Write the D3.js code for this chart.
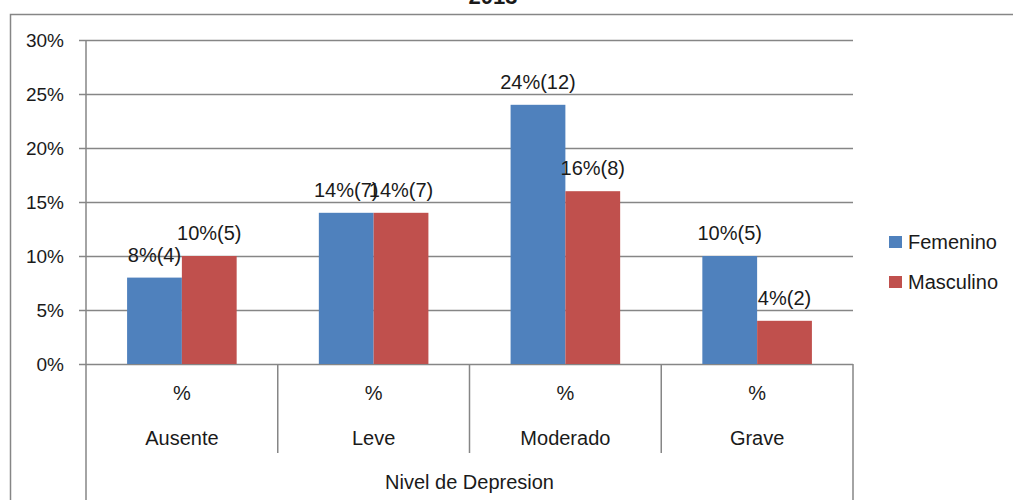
<!DOCTYPE html>
<html>
<head>
<meta charset="utf-8">
<script src="https://cdn.jsdelivr.net/npm/d3@7"></script>
<style>
  html, body { margin: 0; padding: 0; background: #fff; }
  svg { display: block; }
  text { font-family: "Liberation Sans", Arial, sans-serif; fill: #1a1a1a; }
</style>
</head>
<body>
<svg id="chart" width="1013" height="500"></svg>
<script>
// Depression level by sex (percent of sample, with counts)
const categories = ["Ausente", "Leve", "Moderado", "Grave"];
const seriesNames = ["Femenino", "Masculino"];
const femenino = [8, 14, 24, 10];
const masculino = [10, 14, 16, 4];
const femeninoCounts = [4, 7, 12, 5];
const masculinoCounts = [5, 7, 8, 2];
const yTicks = [0, 5, 10, 15, 20, 25, 30];
const subLabel = "%";
const axisTitle = "Nivel de Depresion";
const chartTitle = "2013";
const colors = ["#4F81BD", "#C0504D"];

const svg = d3.select("#chart");
const grid = "#868686";
const fs = "20px";

// Outer chart frame (cropped at right and bottom)
svg.append("path")
  .attr("d", "M10.5,500 V14.5 H1013")
  .attr("fill", "none").attr("stroke", grid).attr("stroke-width", 1.5);

// Title, mostly clipped above the frame
svg.append("text")
  .attr("x", 493).attr("y", 4)
  .attr("text-anchor", "middle")
  .style("font-size", "22px").style("font-weight", "bold")
  .text(chartTitle);

const plotLeft = 86, plotRight = 853, plotTop = 40, plotBottom = 364;

const y = d3.scaleLinear().domain([0, 30]).range([plotBottom, plotTop]);
const x0 = d3.scaleBand().domain(categories).range([plotLeft, plotRight]);
// Two bars per group with a gap of 1.5 bar widths
const barW = x0.bandwidth() / 3.5;
const x1 = d3.scaleBand().domain(seriesNames)
  .range([0.75 * barW, 2.75 * barW]).padding(0);

// Horizontal gridlines with small tick marks
svg.append("g").selectAll("line").data(yTicks).join("line")
  .attr("x1", plotLeft - 7).attr("x2", plotRight)
  .attr("y1", d => Math.round(y(d)) + 0.5).attr("y2", d => Math.round(y(d)) + 0.5)
  .attr("stroke", grid).attr("stroke-width", 1.3);

svg.append("g").selectAll("text").data(yTicks).join("text")
  .attr("x", 64).attr("y", d => y(d))
  .attr("dy", "0.35em")
  .attr("text-anchor", "end")
  .style("font-size", "19px")
  .text(d => d + "%");

// Bars
const rows = categories.map((c, i) => ({
  cat: c,
  vals: [
    { s: seriesNames[0], v: femenino[i], n: femeninoCounts[i] },
    { s: seriesNames[1], v: masculino[i], n: masculinoCounts[i] }
  ]
}));

const groups = svg.append("g").selectAll("g").data(rows).join("g")
  .attr("transform", d => `translate(${x0(d.cat)},0)`);

groups.selectAll("rect").data(d => d.vals).join("rect")
  .attr("x", d => x1(d.s))
  .attr("width", x1.bandwidth())
  .attr("y", d => y(d.v))
  .attr("height", d => plotBottom - y(d.v))
  .attr("fill", (d, i) => colors[i]);

groups.selectAll("text.val").data(d => d.vals).join("text")
  .attr("class", "val")
  .attr("x", d => x1(d.s) + x1.bandwidth() / 2)
  .attr("y", d => y(d.v) - 23)
  .attr("dy", "0.35em")
  .attr("text-anchor", "middle")
  .style("font-size", fs)
  .text(d => `${d.v}%(${d.n})`);

// Axis lines
const axisG = svg.append("g").attr("stroke", grid).attr("stroke-width", 1.5).attr("fill", "none");
axisG.append("line").attr("x1", plotLeft).attr("x2", plotLeft).attr("y1", plotTop).attr("y2", 500);
axisG.append("line").attr("x1", plotRight).attr("x2", plotRight).attr("y1", plotBottom).attr("y2", 500);
axisG.selectAll("line.sep").data(categories.slice(1)).join("line")
  .attr("class", "sep")
  .attr("x1", d => x0(d)).attr("x2", d => x0(d))
  .attr("y1", plotBottom).attr("y2", 453);

// Category labels (two-level axis)
svg.append("g").selectAll("text").data(categories).join("text")
  .attr("x", d => x0(d) + x0.bandwidth() / 2).attr("y", 393)
  .attr("dy", "0.35em").attr("text-anchor", "middle")
  .style("font-size", fs)
  .text(subLabel);

svg.append("g").selectAll("text").data(categories).join("text")
  .attr("x", d => x0(d) + x0.bandwidth() / 2).attr("y", 438)
  .attr("dy", "0.35em").attr("text-anchor", "middle")
  .style("font-size", fs)
  .text(d => d);

svg.append("text")
  .attr("x", (plotLeft + plotRight) / 2).attr("y", 482)
  .attr("dy", "0.35em").attr("text-anchor", "middle")
  .style("font-size", fs)
  .text(axisTitle);

// Legend
const legend = svg.append("g").selectAll("g").data(seriesNames).join("g")
  .attr("transform", (d, i) => `translate(889,${242 + i * 40})`);
legend.append("rect")
  .attr("x", 0).attr("y", -6).attr("width", 13).attr("height", 12)
  .attr("fill", (d, i) => colors[i]);
legend.append("text")
  .attr("x", 19).attr("y", 0).attr("dy", "0.35em")
  .style("font-size", fs)
  .text(d => d);
</script>
</body>
</html>
